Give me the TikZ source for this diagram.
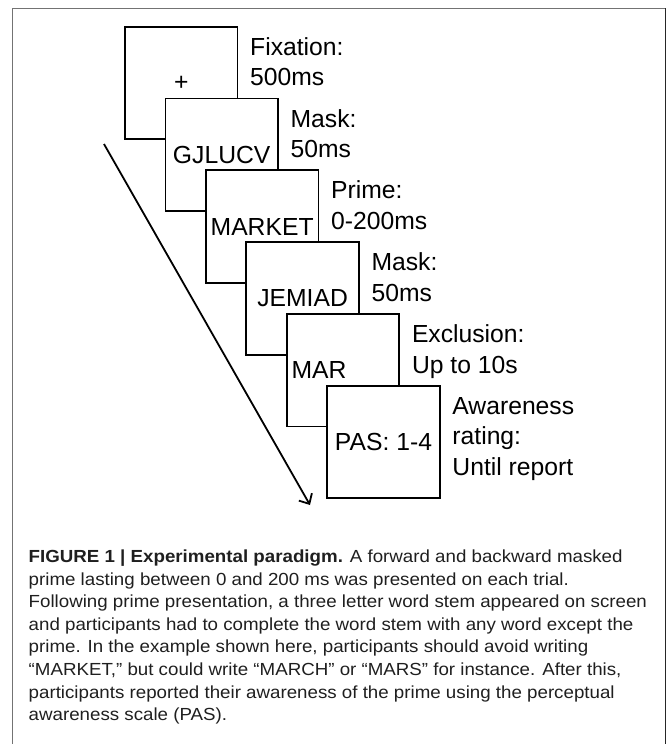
\documentclass[tikz,border=0pt]{standalone}
\usepackage{fontspec}
\setmainfont{Liberation Sans}
\newfontfamily\capfont[FakeStretch=1.07]{Liberation Sans}
\usetikzlibrary{arrows.meta}
\begin{document}
\begin{tikzpicture}[x=1pt,y=-1pt,
  screenbox/.style={draw=black, fill=white, line width=1.8pt, minimum width=112.5pt, minimum height=112.5pt, inner sep=0pt, font=\fontsize{24.7}{30}\selectfont},
  lbl/.style={anchor=base west, inner sep=0pt, font=\fontsize{24.7}{30}\selectfont},
  capline/.style={anchor=base west, inner sep=0pt, font=\capfont\fontsize{17.5}{22.6}\selectfont, text=black!88},
  frameline/.style={line width=1pt, draw=black!55},
  timearrow/.style={line width=1.8pt, -{Straight Barb[length=8pt,width=15pt,line width=1.8pt]}}]

\useasboundingbox (0,0) rectangle (667,744);

% frame
\coordinate (fbl) at (12.7,744);
\coordinate (ftl) at (12.7,8);
\coordinate (ftr) at (665,8);
\coordinate (fbr) at (665,744);
\draw[frameline] (fbl) -- (ftl) -- (ftr);
\draw[frameline, draw=black!85] (ftr) -- (fbr);

% time arrow
\coordinate (astart) at (104,144);
\coordinate (aend) at (310,505);
\draw[timearrow] (astart) -- (aend);

% screens
\node[screenbox] (s0) at (181.25,82.95) {+};
\node[screenbox] (s1) at (221.7,154.75) {GJLUCV};
\node[screenbox] (s2) at (262.15,226.55) {MARKET};
\node[screenbox] (s3) at (302.6,298.35) {JEMIAD};
\node[screenbox] (s4) at (343.05,370.15) {MAR\hspace*{48pt}};
\node[screenbox] (s5) at (383.5,441.95) {PAS: 1-4};

% labels
\node[lbl] (l0a) at (250,55.2) {Fixation:};
\node[lbl] (l0b) at (250,85.8) {500ms};
\node[lbl] (l1a) at (290.45,127) {Mask:};
\node[lbl] (l1b) at (290.45,157.6) {50ms};
\node[lbl] (l2a) at (330.9,198.8) {Prime:};
\node[lbl] (l2b) at (330.9,229.4) {0-200ms};
\node[lbl] (l3a) at (371.35,270.6) {Mask:};
\node[lbl] (l3b) at (371.35,301.2) {50ms};
\node[lbl] (l4a) at (411.8,342.4) {Exclusion:};
\node[lbl] (l4b) at (411.8,373) {Up to 10s};
\node[lbl] (l5a) at (452.25,414.2) {Awareness};
\node[lbl] (l5b) at (452.25,444.8) {rating:};
\node[lbl] (l5c) at (452.25,475.4) {Until report};

% caption
\node[capline] (c1) at (28.5,562.5) {\textbf{FIGURE 1 | Experimental paradigm.} A forward and backward masked};
\node[capline] (c2) at (28.5,585.1) {prime lasting between 0 and 200 ms was presented on each trial.};
\node[capline] (c3) at (28.5,607.7) {Following prime presentation, a three letter word stem appeared on screen};
\node[capline] (c4) at (28.5,630.3) {and participants had to complete the word stem with any word except the};
\node[capline] (c5) at (28.5,652.9) {prime. In the example shown here, participants should avoid writing};
\node[capline] (c6) at (28.5,675.5) {“MARKET,” but could write “MARCH” or “MARS” for instance. After this,};
\node[capline] (c7) at (28.5,698.1) {participants reported their awareness of the prime using the perceptual};
\node[capline] (c8) at (28.5,720.7) {awareness scale (PAS).};
\end{tikzpicture}
\end{document}
